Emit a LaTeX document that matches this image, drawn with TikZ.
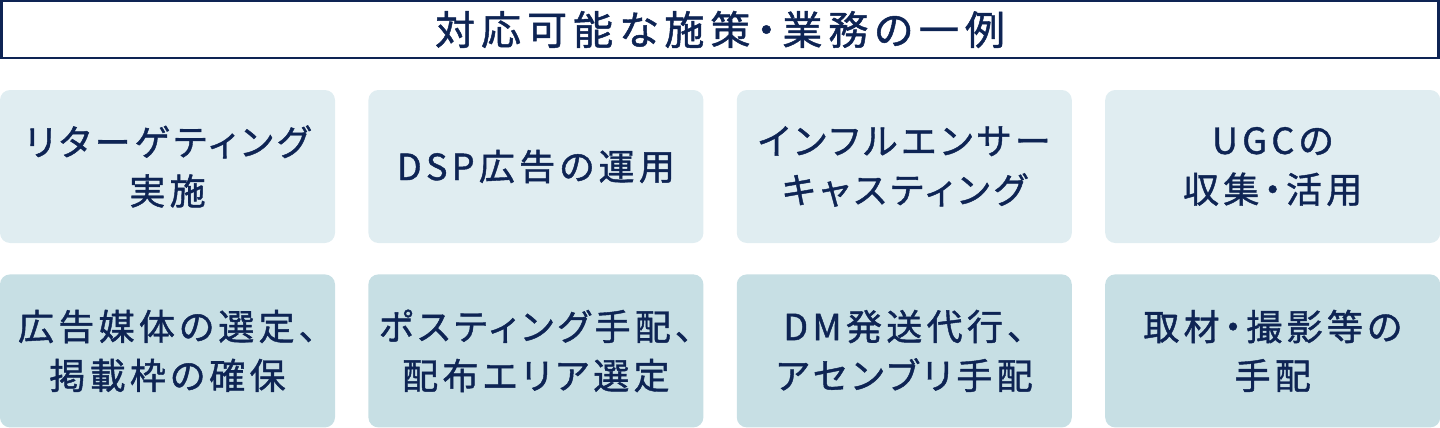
\documentclass[tikz,border=0pt]{standalone}
\usepackage{fontspec}
\setmainfont[LetterSpace=12, RawFeature=+palt, FakeBold=1.2]{Noto Sans CJK JP}
\newfontfamily\headfont[LetterSpace=15, RawFeature=+palt, FakeBold=1.2]{Noto Sans CJK JP}
\usetikzlibrary{positioning}
\definecolor{navy}{HTML}{0E2454}
\definecolor{paleblue}{HTML}{E0EDF1}
\definecolor{midblue}{HTML}{C7DFE4}

\begin{document}
\begin{tikzpicture}[
  x=1pt, y=-1pt,
  node distance=31pt and 33pt,
  heading/.style={draw=navy, line width=2.7pt, rectangle, minimum width=1437.3pt, minimum height=57.3pt, inner sep=0pt, text=navy, font=\headfont\fontsize{40}{48}\selectfont},
  task/.style={rectangle, rounded corners=10pt, minimum width=335pt, minimum height=153pt, inner sep=0pt, align=center, text=navy, font=\fontsize{36}{49}\selectfont},
  upper/.style={task, fill=paleblue},
  lower/.style={task, fill=midblue}
]
  \useasboundingbox (0,0) rectangle (1440,428);
  \node[heading] (title) at (720,29.5) {対応可能な施策・業務の一例};

  \node[upper] (retarget) at (167.5,166.5) {リターゲティング\\実施};
  \node[upper, right=of retarget] (dsp) {DSP広告の運用};
  \node[upper, right=of dsp] (influencer) {インフルエンサー\\キャスティング};
  \node[upper, right=of influencer] (ugc) {UGCの\\収集・活用};

  \node[lower, below=of retarget] (media) {広告媒体の選定、\\掲載枠の確保};
  \node[lower, right=of media] (posting) {ポスティング手配、\\配布エリア選定};
  \node[lower, right=of posting] (dm) {DM発送代行、\\アセンブリ手配};
  \node[lower, right=of dm] (shooting) {取材・撮影等の\\手配};
\end{tikzpicture}
\end{document}
